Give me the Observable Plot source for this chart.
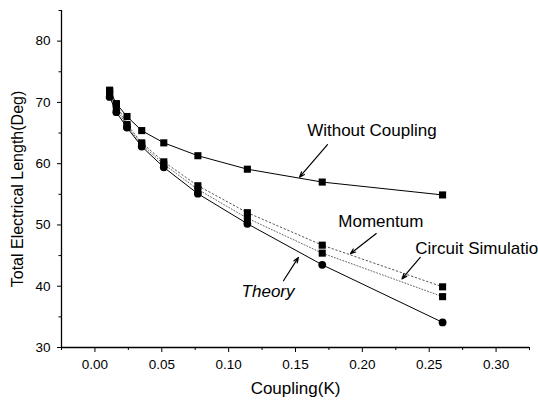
<!DOCTYPE html>
<html><head><meta charset="utf-8">
<script src="https://cdn.jsdelivr.net/npm/d3@7"></script>
<script src="https://cdn.jsdelivr.net/npm/@observablehq/plot@0.6"></script>
<style>html,body{margin:0;padding:0;background:#fff;overflow:hidden}</style>
</head><body><div id="chart"></div>
<script>
// Data
const K = [0.011, 0.016, 0.024, 0.035, 0.0515, 0.077, 0.114, 0.170, 0.260];
const withoutCoupling = [72.0, 69.8, 67.7, 65.4, 63.4, 61.3, 59.1, 57.0, 54.9];
const theory          = [70.9, 68.4, 65.9, 62.8, 59.4, 55.1, 50.2, 43.5, 34.1];
const momentum        = [71.8, 69.7, 66.4, 63.4, 60.3, 56.4, 52.0, 46.7, 39.9];
const circuitSim      = [71.4, 69.1, 66.1, 63.1, 59.9, 55.8, 51.1, 45.4, 38.3];

const xDomain = [-0.025, 0.325];
const yDomain = [30, 85];
const xTicks = [0.00, 0.05, 0.10, 0.15, 0.20, 0.25, 0.30];
const xMinor = [-0.025, 0.025, 0.075, 0.125, 0.175, 0.225, 0.275, 0.325];
const yTicks = [30, 40, 50, 60, 70, 80];
const yMinor = [35, 45, 55, 65, 75, 85];

// Annotations (in data units)
const labelText = ["Without Coupling", "Momentum", "Circuit Simulation", "Theory"];
const labelK    = [0.1587, 0.182, 0.2396, 0.1097];
const labelDeg  = [65.4, 50.6, 46.2, 39.2];
const arrowK1   = [0.1739, 0.2104, 0.2433, 0.141];
const arrowDeg1 = [63.1, 48.6, 44.7, 40.9];
const arrowK2   = [0.153, 0.191, 0.2296, 0.1522];
const arrowDeg2 = [57.8, 45.3, 41.2, 44.7];

const toRows = (vals, name) => K.map((k, i) => ({k, v: vals[i], name}));
const rowsWithout = toRows(withoutCoupling, "Without Coupling");
const rowsTheory = toRows(theory, "Theory");
const rowsMomentum = toRows(momentum, "Momentum");
const rowsCircuit = toRows(circuitSim, "Circuit Simulation");
const labels = labelText.map((t, i) => ({t, k: labelK[i], v: labelDeg[i]}));
const arrows = labelText.map((t, i) => ({x1: arrowK1[i], y1: arrowDeg1[i], x2: arrowK2[i], y2: arrowDeg2[i]}));

const font = "'Liberation Sans', Arial, Helvetica, sans-serif";

const chart = Plot.plot({
  width: 538, height: 401,
  marginLeft: 61, marginRight: 9, marginTop: 10, marginBottom: 54,
  style: {fontFamily: font, fontSize: "13.5px", color: "black", background: "white", overflow: "hidden"},
  x: {domain: xDomain},
  y: {domain: yDomain},
  marks: [
    Plot.axisX(xTicks, {tickSize: 5, tickPadding: 7, tickFormat: d3.format(".2f"), fontSize: 13.5, label: null}),
    Plot.axisX(xMinor, {tickSize: 3, tickFormat: () => "", label: null}),
    Plot.axisY(yTicks, {tickSize: 4, tickPadding: 7, fontSize: 13.5, label: null}),
    Plot.axisY(yMinor, {tickSize: 2.5, tickFormat: () => "", label: null}),
    Plot.ruleX([xDomain[0]], {stroke: "black", strokeWidth: 1.3}),
    Plot.ruleY([yDomain[0]], {stroke: "black", strokeWidth: 1.3}),
    Plot.text(["Coupling(K)"], {frameAnchor: "bottom", textAnchor: "middle", dy: 46, fontSize: 17}),
    Plot.text(["Total Electrical Length(Deg)"], {frameAnchor: "left", textAnchor: "middle", rotate: -90, dx: -44, dy: 10, fontSize: 16}),
    Plot.line(rowsWithout, {x: "k", y: "v", stroke: "black", strokeWidth: 1}),
    Plot.line(rowsTheory, {x: "k", y: "v", stroke: "black", strokeWidth: 1}),
    Plot.line(rowsMomentum, {x: "k", y: "v", stroke: "#555", strokeWidth: 1, strokeDasharray: "1.5,2.5"}),
    Plot.line(rowsCircuit, {x: "k", y: "v", stroke: "#666", strokeWidth: 1, strokeDasharray: "1,2"}),
    Plot.dot(rowsWithout, {x: "k", y: "v", symbol: "square", r: 4, fill: "black", stroke: "none"}),
    Plot.dot(rowsMomentum, {x: "k", y: "v", symbol: "square", r: 4, fill: "black", stroke: "none"}),
    Plot.dot(rowsCircuit, {x: "k", y: "v", symbol: "square", r: 4, fill: "black", stroke: "none"}),
    Plot.dot(rowsTheory, {x: "k", y: "v", symbol: "circle", r: 3.9, fill: "black", stroke: "none"}),
    Plot.arrow(arrows, {x1: "x1", y1: "y1", x2: "x2", y2: "y2", stroke: "black", strokeWidth: 1.2, headLength: 7, headAngle: 40}),
    Plot.text(labels.filter(d => d.t !== "Theory"), {x: "k", y: "v", text: "t", textAnchor: "start", fontSize: 17, fill: "black"}),
    Plot.text(labels.filter(d => d.t === "Theory"), {x: "k", y: "v", text: "t", textAnchor: "start", fontSize: 17, fontStyle: "italic", fill: "black"})
  ]
});
document.getElementById("chart").appendChild(chart);
</script>
</body></html>
